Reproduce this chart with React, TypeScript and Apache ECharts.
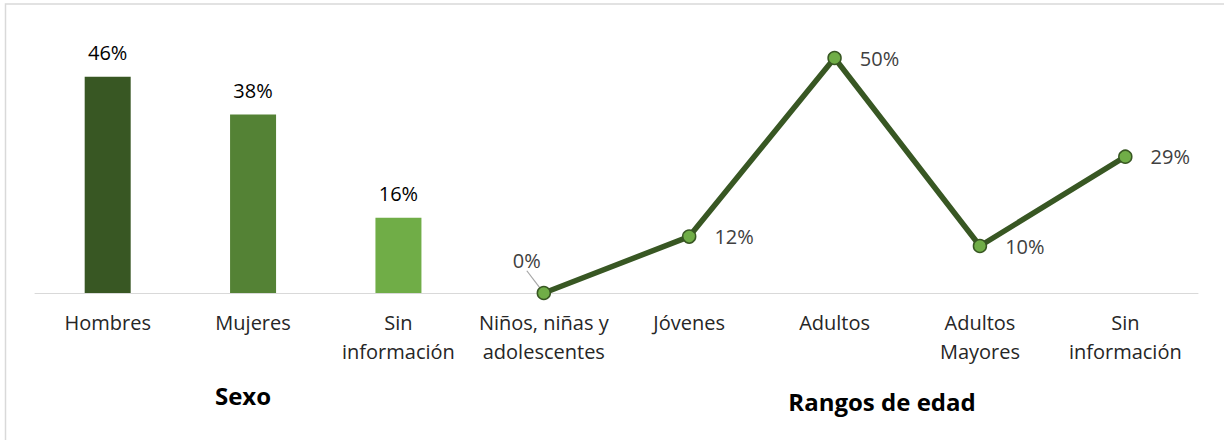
import React, { useEffect, useRef } from "react";
import * as echarts from "echarts";

const categories = [
  "Hombres",
  "Mujeres",
  "Sin\ninformación",
  "Niños, niñas y\nadolescentes",
  "Jóvenes",
  "Adultos",
  "Adultos\nMayores",
  "Sin\ninformación",
];
const sexoValues: (number | null)[] = [46, 38, 16, null, null, null, null, null];
const sexoColors = ["#385723", "#548235", "#70ad47"];
const edadValues: (number | null)[] = [null, null, null, 0, 12, 50, 10, 29];
const groupTitles = ["Sexo", "Rangos de edad"];

const FONT = "Open Sans";

export default function App() {
  const ref = useRef<HTMLDivElement>(null);
  useEffect(() => {
    if (!ref.current) return;
    const chart = echarts.init(ref.current, undefined, { renderer: "svg" });
    const option: any = {
      animation: false,
      textStyle: { fontFamily: FONT },
      grid: { left: 35, right: 26, top: 58, bottom: 147 },
      xAxis: {
        type: "category",
        data: categories,
        boundaryGap: true,
        axisLine: { show: true, lineStyle: { color: "#d9d9d9", width: 1 } },
        axisTick: { show: false },
        axisLabel: {
          interval: 0,
          color: "#262626",
          fontSize: 20,
          lineHeight: 29,
          margin: 15,
          fontFamily: FONT,
        },
      },
      yAxis: {
        type: "value",
        min: 0,
        max: 50,
        show: false,
        splitLine: { show: false },
      },
      graphic: [
        {
          type: "rect",
          shape: { x: 5.5, y: 4, width: 1400, height: 600 },
          style: { fill: "none", stroke: "#d9d9d9", lineWidth: 1.5 },
          silent: true,
        },
        {
          type: "text",
          x: 243,
          y: 395,
          style: {
            text: groupTitles[0],
            fill: "#000",
            font: `bold 24px "${FONT}"`,
            align: "center",
            verticalAlign: "middle",
          },
        },
        {
          type: "text",
          x: 882,
          y: 401,
          style: {
            text: groupTitles[1],
            fill: "#000",
            font: `bold 24px "${FONT}"`,
            align: "center",
            verticalAlign: "middle",
          },
        },
      ],
      series: [
        {
          type: "bar",
          barWidth: 46,
          data: sexoValues.map((v, i) =>
            v == null ? null : { value: v, itemStyle: { color: sexoColors[i] } }
          ),
          label: {
            show: true,
            position: "top",
            distance: 14,
            color: "#000",
            fontSize: 20,
            fontFamily: FONT,
            formatter: "{c}%",
          },
        },
        {
          type: "line",
          data: edadValues.map((v, i) =>
            v === 0 && i === 3
              ? {
                  value: v,
                  label: { position: "top", distance: 5 },
                  labelLine: { show: true, lineStyle: { color: "#a6a6a6", width: 1.2 } },
                }
              : v
          ),
          connectNulls: false,
          symbol: "circle",
          symbolSize: 13,
          lineStyle: { color: "#385723", width: 5.5 },
          itemStyle: { color: "#70ad47", borderColor: "#385723", borderWidth: 1.5 },
          clip: false,
          z: 3,
          label: {
            show: true,
            position: "right",
            distance: 18,
            offset: [0, 2],
            color: "#404040",
            fontSize: 20,
            fontFamily: FONT,
            formatter: "{c}%",
          },
          labelLayout: (params: any) =>
            params.dataIndex === 3 ? { dx: -17, dy: -10 } : undefined,
        },
      ],
    };
    chart.setOption(option);
    return () => chart.dispose();
  }, []);
  return (
    <div
      ref={ref}
      style={{ position: "fixed", left: 0, top: 0, width: 1224, height: 440, background: "#fff" }}
    />
  );
}
